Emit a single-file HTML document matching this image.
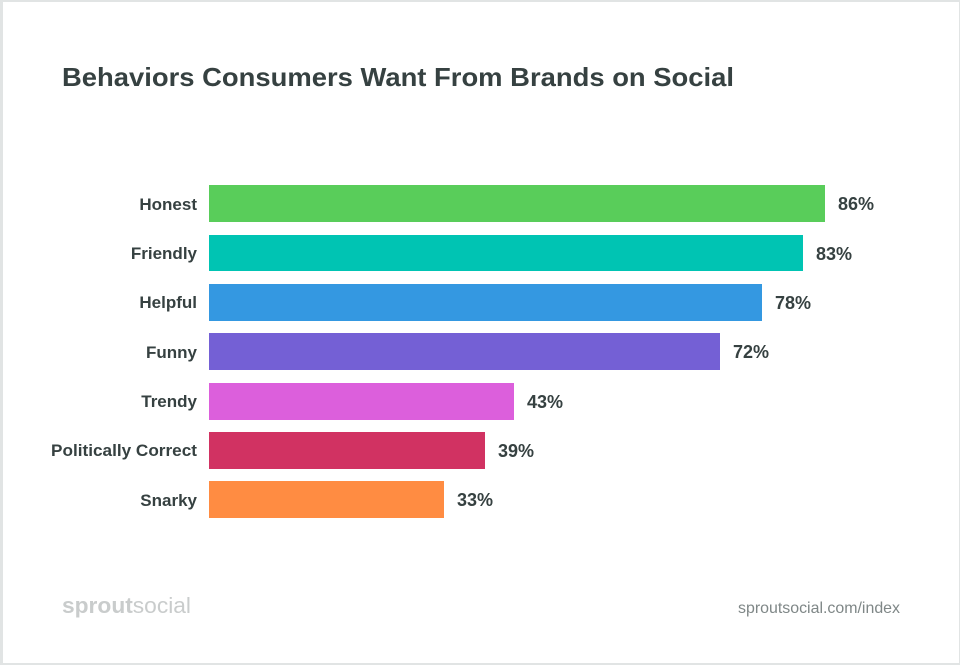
<!DOCTYPE html>
<html><head><style>
html,body{margin:0;padding:0;background:#fff;}
body{width:960px;height:665px;position:relative;overflow:hidden;font-family:"Liberation Sans",sans-serif;}
.frame{position:absolute;left:0;top:0;width:956px;height:661px;border:2px solid #e1e4e4;border-left-width:3px;border-right-width:2px;}
</style></head><body>
<div class="frame"></div>
<svg width="960" height="665" style="position:absolute;left:0;top:0">
<text x="62" y="86" font-family="Liberation Sans" font-weight="bold" font-size="26" fill="#364141" textLength="672" lengthAdjust="spacingAndGlyphs">Behaviors Consumers Want From Brands on Social</text>
<g font-family="Liberation Sans" font-weight="bold" font-size="17" fill="#364141" text-anchor="end">
<text x="197" y="210">Honest</text>
<text x="197" y="259">Friendly</text>
<text x="197" y="308">Helpful</text>
<text x="197" y="358">Funny</text>
<text x="197" y="407">Trendy</text>
<text x="197" y="456" textLength="146" lengthAdjust="spacingAndGlyphs">Politically Correct</text>
<text x="197" y="506">Snarky</text>
</g>
<rect x="209" y="185" width="616" height="37" fill="#59cd5a"/>
<rect x="209" y="235" width="594" height="36" fill="#00c4b3"/>
<rect x="209" y="284" width="553" height="37" fill="#3498e1"/>
<rect x="209" y="333" width="511" height="37" fill="#7460d5"/>
<rect x="209" y="383" width="305" height="37" fill="#dc5fdc"/>
<rect x="209" y="432" width="276" height="37" fill="#d13262"/>
<rect x="209" y="481" width="235" height="37" fill="#ff8c42"/>
<g font-family="Liberation Sans" font-weight="bold" font-size="18" fill="#364141">
<text x="838" y="210">86%</text>
<text x="816" y="260">83%</text>
<text x="775" y="309">78%</text>
<text x="733" y="358">72%</text>
<text x="527" y="408">43%</text>
<text x="498" y="457">39%</text>
<text x="457" y="506">33%</text>
</g>
<text x="62" y="613" font-family="Liberation Sans" font-size="22" fill="#c9cccc" textLength="129" lengthAdjust="spacingAndGlyphs"><tspan font-weight="bold">sprout</tspan>social</text>
<text x="900" y="613" text-anchor="end" font-family="Liberation Sans" font-size="16" fill="#7f8787" textLength="162" lengthAdjust="spacingAndGlyphs">sproutsocial.com/index</text>
</svg>
</body></html>
